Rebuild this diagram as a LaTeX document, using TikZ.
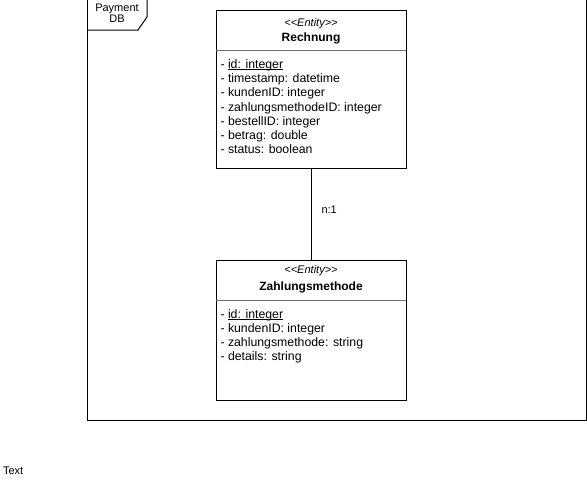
\documentclass[tikz,border=0pt]{standalone}
\usepackage{fontspec}
\setmainfont[Ligatures=NoCommon]{Liberation Sans}
\newcommand\myul[1]{\setbox0\hbox{#1}\rlap{\rule[-1.6pt]{\wd0}{0.8pt}}\box0}
\begin{document}
\begin{tikzpicture}[x=1pt,y=-1pt,line width=1pt,
  classbox/.style={draw=black,fill=white,anchor=north west,minimum width=190pt,inner sep=0pt,outer sep=0pt},
  attr/.style={anchor=base west,inner sep=0pt,font=\fontsize{12.3}{14}\selectfont},
  stereo/.style={anchor=base,inner sep=0pt,font=\fontsize{11}{13}\selectfont\itshape},
  cname/.style={anchor=base,inner sep=0pt,font=\fontsize{12}{14}\selectfont\bfseries},
  sep/.style={draw=black!55,line width=0.8pt},
  small/.style={inner sep=0pt,font=\fontsize{11}{13}\selectfont}]
\useasboundingbox (0,0) rectangle (587,483);
% frame
\draw (87,-1) rectangle (586,420);
\draw (87,30) -- (138,30) -- (147,17) -- (147,-1);
\node[small,anchor=base] (pl1) at (117,11) {Payment};
\node[small,anchor=base] (pl2) at (117,22.7) {DB};
% Rechnung
\node[classbox,minimum height=158pt] (r) at (216,10) {};
\node[stereo] (rs) at (311,26) {{<}{<}Entity{>}{>}};
\node[cname] (rn) at (311,41.7) {Rechnung};
\draw[sep] (216,50) -- (406,50);
\node[attr] (r1) at (220,68.5) {- \myul{id: integer}};
\node[attr] (r2) at (220,82.7) {- timestamp: datetime};
\node[attr] (r3) at (220,96.9) {- kundenID: integer};
\node[attr] (r4) at (220,111.1) {- zahlungsmethodeID: integer};
\node[attr] (r5) at (220,125.3) {- bestellID: integer};
\node[attr] (r6) at (220,139.5) {- betrag: double};
\node[attr] (r7) at (220,153.7) {- status: boolean};
% Zahlungsmethode
\node[classbox,minimum height=140pt] (z) at (216,260) {};
\node[stereo] (zs) at (311,273.3) {{<}{<}Entity{>}{>}};
\node[cname] (zn) at (311,290) {Zahlungsmethode};
\draw[sep] (216,300) -- (406,300);
\node[attr] (z1) at (220,318.3) {- \myul{id: integer}};
\node[attr] (z2) at (220,332.5) {- kundenID: integer};
\node[attr] (z3) at (220,346.7) {- zahlungsmethode: string};
\node[attr] (z4) at (220,360.9) {- details: string};
% connector
\draw (r.south) -- (z.north);
\node[small,anchor=base west] (lbl) at (321,213) {n:1};
% free text
\node[small,anchor=base west] (txt) at (2.5,474) {Text};
\end{tikzpicture}
\end{document}
